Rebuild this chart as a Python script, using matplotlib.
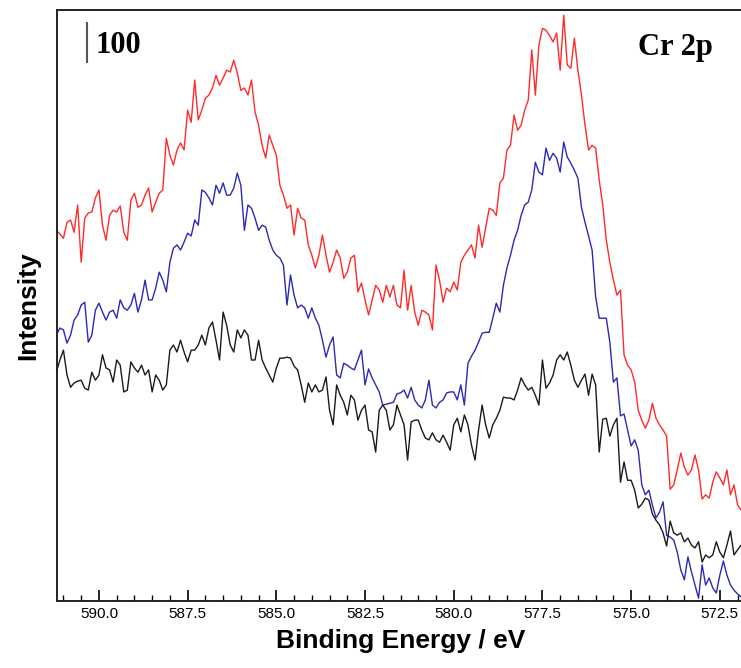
import numpy as np
import matplotlib
matplotlib.use("Agg")
import matplotlib.pyplot as plt
from matplotlib.ticker import MultipleLocator, FormatStrFormatter

# Cr 2p spectra, binding energy grid in 0.1 eV steps from 591.2 eV down
e_start = 591.2
e_step = 0.1
n_pts = 195
energy = np.round(e_start - e_step * np.arange(n_pts), 1)

# intensities (arbitrary counts)
red_counts = [789, 781, 772, 806, 811, 785, 843, 721, 815, 826,
              828, 858, 875, 800, 768, 821, 832, 828, 841, 785,
              768, 853, 868, 838, 843, 864, 879, 828, 849, 868,
              875, 985, 949, 928, 960, 975, 960, 1045, 1019, 1109,
              1024, 1045, 1070, 1077, 1092, 1119, 1098, 1113, 1130, 1126,
              1151, 1124, 1087, 1092, 1077, 1109, 1041, 1013, 970, 943,
              992, 970, 949, 885, 864, 836, 843, 779, 836, 815,
              811, 758, 736, 709, 736, 779, 736, 700, 721, 747,
              730, 687, 700, 730, 736, 658, 677, 641, 609, 641,
              672, 662, 636, 672, 647, 672, 630, 624, 704, 619,
              672, 615, 587, 619, 615, 609, 577, 715, 683, 636,
              666, 658, 679, 662, 721, 736, 747, 758, 730, 800,
              753, 794, 836, 832, 821, 890, 900, 960, 970, 1034,
              1002, 1013, 1045, 1066, 1173, 1077, 1183, 1219, 1215, 1204,
              1190, 1209, 1130, 1247, 1141, 1134, 1198, 1130, 1077, 1013,
              960, 970, 964, 896, 843, 768, 721, 683, 651, 662,
              524, 502, 492, 466, 406, 385, 368, 385, 421, 389,
              375, 364, 351, 238, 247, 279, 315, 285, 268, 279,
              311, 279, 217, 226, 219, 253, 275, 262, 247, 279,
              226, 247, 204, 194, 189]

blue_counts = [566, 581, 577, 549, 566, 598, 609, 630, 636, 551,
               566, 619, 634, 615, 598, 615, 619, 602, 641, 624,
               619, 630, 655, 615, 641, 683, 641, 641, 666, 700,
               683, 658, 721, 751, 758, 747, 764, 783, 777, 811,
               800, 875, 870, 858, 843, 885, 868, 890, 864, 864,
               879, 911, 885, 789, 843, 836, 815, 789, 800, 796,
               768, 747, 736, 730, 715, 630, 694, 651, 624, 630,
               624, 602, 624, 602, 587, 555, 519, 545, 562, 481,
               475, 506, 502, 496, 492, 513, 534, 460, 494, 475,
               460, 445, 417, 419, 421, 423, 441, 443, 449, 432,
               455, 428, 417, 411, 428, 470, 417, 411, 423, 428,
               443, 445, 445, 428, 460, 417, 506, 521, 534, 551,
               570, 572, 572, 602, 634, 615, 672, 709, 736, 768,
               789, 821, 843, 849, 875, 934, 913, 907, 964, 938,
               953, 943, 913, 977, 945, 932, 917, 900, 838, 806,
               777, 747, 647, 602, 602, 602, 551, 466, 475, 394,
               398, 364, 330, 343, 321, 247, 226, 236, 204, 177,
               189, 211, 140, 136, 130, 104, 66, 45, 94, 62,
               34, 6, 77, 34, 49, 28, 17, 55, 85, 55,
               34, 23, 15, 9, 6]

black_counts = [487, 513, 534, 481, 455, 464, 468, 470, 453, 449,
                487, 470, 481, 524, 496, 492, 466, 513, 502, 445,
                449, 509, 496, 487, 502, 481, 492, 445, 481, 470,
                449, 460, 534, 545, 530, 555, 530, 509, 534, 534,
                545, 566, 545, 581, 594, 555, 513, 615, 587, 545,
                530, 577, 560, 577, 566, 513, 513, 555, 513, 496,
                481, 466, 496, 517, 517, 519, 517, 500, 492, 460,
                423, 464, 445, 460, 445, 449, 477, 406, 375, 460,
                438, 423, 396, 438, 428, 385, 406, 417, 364, 360,
                317, 406, 417, 406, 364, 375, 417, 396, 375, 300,
                381, 385, 385, 364, 347, 343, 358, 343, 338, 353,
                338, 321, 375, 389, 360, 396, 375, 332, 300, 364,
                417, 375, 347, 375, 389, 406, 434, 432, 432, 428,
                449, 475, 460, 449, 455, 438, 417, 513, 453, 464,
                481, 513, 524, 513, 530, 502, 470, 455, 470, 483,
                438, 483, 460, 317, 387, 389, 351, 375, 389, 253,
                296, 257, 257, 236, 198, 206, 219, 215, 185, 172,
                162, 145, 117, 170, 145, 140, 145, 126, 134, 119,
                113, 126, 83, 98, 92, 98, 126, 104, 92, 119,
                149, 98, 109, 119, 113]

major_ticks = [590.0, 587.5, 585.0, 582.5, 580.0, 577.5, 575.0, 572.5]

fig = plt.figure(figsize=(7.41, 6.68), dpi=100)
ax = fig.add_axes([0.077, 0.1003, 0.927, 0.8847])

ax.plot(energy, red_counts, color="#ff2a2a", lw=1.0)
ax.plot(energy, blue_counts, color="#2a2ab4", lw=1.0)
ax.plot(energy, black_counts, color="#1a1a1a", lw=1.0)

ax.set_xlim(591.18, 571.82)
ax.set_ylim(0, 1258)

ax.set_xticks(major_ticks)
ax.xaxis.set_major_formatter(FormatStrFormatter("%.1f"))
ax.xaxis.set_minor_locator(MultipleLocator(0.5))
ax.tick_params(axis="x", which="major", direction="in", length=8, width=1.2,
               labelsize=11, pad=4, top=False)
ax.tick_params(axis="x", which="minor", direction="in", length=4, width=1.0,
               top=False)
ax.set_yticks([])
for lab in ax.get_xticklabels():
    lab.set_family(["Liberation Sans", "DejaVu Sans"])

for s in ["left", "top", "bottom", "right"]:
    ax.spines[s].set_linewidth(1.4)
    ax.spines[s].set_color("#222222")

ax.set_xlabel("Binding Energy / eV", fontsize=19, fontweight="bold",
              family=["Liberation Sans", "DejaVu Sans"], labelpad=6)
ax.set_ylabel("Intensity", fontsize=19, fontweight="bold",
              family=["Liberation Sans", "DejaVu Sans"], labelpad=12)

# scale bar for 100 counts
ax.plot([0.0437, 0.0437], [0.912, 0.978], transform=ax.transAxes,
        color="#555555", lw=1.5)
ax.text(0.0553, 0.927, "100", transform=ax.transAxes, fontsize=22,
        fontweight="bold", family=["Liberation Serif", "DejaVu Serif"],
        ha="left", va="baseline")
ax.text(0.955, 0.924, "Cr 2p", transform=ax.transAxes, fontsize=22,
        fontweight="bold", family=["Liberation Serif", "DejaVu Serif"],
        ha="right", va="baseline")

fig.savefig("out.png", dpi=100)
